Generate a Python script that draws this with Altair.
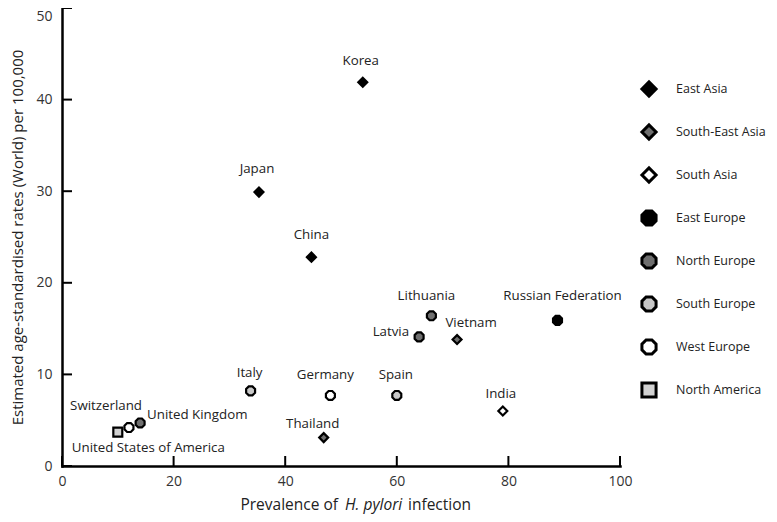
import altair as alt
import pandas as pd

countries = ["Korea", "Japan", "China", "Lithuania", "Latvia", "Vietnam",
             "Russian Federation", "Spain", "India", "Germany", "Italy",
             "Thailand", "United Kingdom", "Switzerland", "United States of America"]
regions = ["East Asia", "East Asia", "East Asia", "North Europe", "North Europe",
           "South-East Asia", "East Europe", "South Europe", "South Asia",
           "West Europe", "South Europe", "South-East Asia", "North Europe",
           "West Europe", "North America"]
prevalence = [53.9, 35.3, 44.7, 66.2, 64.0, 70.8, 88.8, 60.0, 79.0, 48.1, 33.8,
              46.9, 14.0, 12.0, 10.0]
rates = [41.9, 29.9, 22.8, 16.4, 14.1, 13.8, 15.9, 7.7, 6.0, 7.7, 8.2, 3.1, 4.7,
         4.2, 3.7]

region_order = ["East Asia", "South-East Asia", "South Asia", "East Europe",
                "North Europe", "South Europe", "West Europe", "North America"]
x_ticks = [0, 20, 40, 60, 80, 100]
y_ticks = [0, 10, 20, 30, 40, 50]

# ---- styling / layout (not data) ----
OCT = "M-0.41,-1L0.41,-1L1,-0.41L1,0.41L0.41,1L-0.41,1L-1,0.41L-1,-0.41Z"
region_shapes = ["diamond", "diamond", "diamond", OCT, OCT, OCT, OCT, "square"]
region_fills = ["black", "#6f6f6f", "white", "black", "#6f6f6f", "#c8c8c8",
                "white", "#d2d2d2"]

label_layout = {
    "Korea": (-2, -21, "center"),
    "Japan": (-2, -23, "center"),
    "China": (0, -22, "center"),
    "Lithuania": (-5, -20, "center"),
    "Latvia": (-10, -5, "right"),
    "Vietnam": (14, -17, "center"),
    "Russian Federation": (5, -24, "center"),
    "Spain": (-1, -20, "center"),
    "India": (-2, -17, "center"),
    "Germany": (-5, -20, "center"),
    "Italy": (-1, -18, "center"),
    "Thailand": (-11, -14, "center"),
    "United Kingdom": (7, -8, "left"),
    "Switzerland": (13, -22, "right"),
    "United States of America": (-46, 16, "left"),
}

FONT = "Open Sans"
LBL = 13.3
W, H = 558, 458

df = pd.DataFrame({"country": countries, "region": regions,
                   "prevalence": prevalence, "rate": rates})

xscale = alt.Scale(domain=[0, 100], nice=False)
yscale = alt.Scale(domain=[0, 50], nice=False)

xs = alt.X("prevalence:Q", scale=xscale,
           axis=alt.Axis(values=x_ticks, title=None, ticks=False, grid=False,
                         labelPadding=8, labelFontSize=14, labelFont=FONT,
                         labelColor="#333", domainColor="black", domainWidth=2.5,
                         labelFlush=False))
ys = alt.Y("rate:Q", scale=yscale,
           axis=alt.Axis(values=y_ticks, ticks=False, grid=False,
                         title="Estimated age-standardised rates (World) per 100,000",
                         titleFont=FONT, titleFontSize=15, titleFontWeight="normal",
                         titleColor="#222", titleX=-45, titleY=H / 2,
                         titleBaseline="middle", titleAlign="center",
                         labelPadding=10, labelFontSize=14, labelFont=FONT,
                         labelColor="#333", domainColor="black", domainWidth=2.5,
                         labelFlush=False,
                         labelBaseline={"condition": {"test": "datum.value == 50",
                                                      "value": "top"},
                                        "value": "middle"},
                         labelOffset={"condition": {"test": "datum.value == 50",
                                                    "value": 1},
                                      "value": 0}))

leg = alt.Legend(title=None, orient="none", legendX=578, legendY=72, rowPadding=15,
                 symbolSize=200, symbolStrokeWidth=3, symbolStrokeColor="black",
                 labelFont=FONT, labelFontSize=12.5, labelColor="#222",
                 labelOffset=18)

base = alt.Chart(df)

points = base.mark_point(filled=True, size=80, strokeWidth=2.2, opacity=1).encode(
    x=xs, y=ys,
    fill=alt.Fill("region:N", scale=alt.Scale(domain=region_order, range=region_fills),
                  legend=leg),
    shape=alt.Shape("region:N", scale=alt.Scale(domain=region_order, range=region_shapes),
                    legend=leg),
    stroke=alt.Stroke("region:N", scale=alt.Scale(domain=region_order,
                                                  range=["black"] * 8),
                      legend=leg),
)

label_layers = []
for name, (dx, dy, al) in label_layout.items():
    label_layers.append(
        base.transform_filter(alt.datum.country == name).mark_text(
            font=FONT, fontSize=LBL, color="#222", dx=dx, dy=dy,
            align=al, baseline="middle").encode(
            x=alt.X("prevalence:Q", scale=xscale),
            y=alt.Y("rate:Q", scale=yscale), text="country:N"))

xt = alt.Chart(pd.DataFrame({"v": x_ticks})).mark_rule(color="black", strokeWidth=2).encode(
    x=alt.X("v:Q", scale=xscale), y=alt.value(H), y2=alt.value(H - 10))
yt = alt.Chart(pd.DataFrame({"v": y_ticks})).mark_rule(color="black", strokeWidth=2).encode(
    y=alt.Y("v:Q", scale=yscale), x=alt.value(0), x2=alt.value(10))

title_parts = [("Prevalence of", 276, "right", "normal"),
               ("H. pylori", 283, "left", "italic"),
               ("infection", 346, "left", "normal")]
tparts = []
for txt, px, al, st in title_parts:
    tparts.append(alt.Chart(pd.DataFrame({"t": [txt]})).mark_text(
        font=FONT, fontSize=15.5, color="#222", align=al, baseline="middle",
        fontStyle=st).encode(text="t:N", x=alt.value(px), y=alt.value(H + 39)))

chart = alt.layer(xt, yt, points, *label_layers, *tparts).properties(
    width=W, height=H,
    autosize=alt.AutoSizeParams(type="none"),
    padding={"left": 54, "top": 0, "right": 149, "bottom": 48},
).configure_view(stroke=None).configure_axis(domainCap="square")

chart.save("out.html", embed_options={"renderer": "svg", "actions": False})
